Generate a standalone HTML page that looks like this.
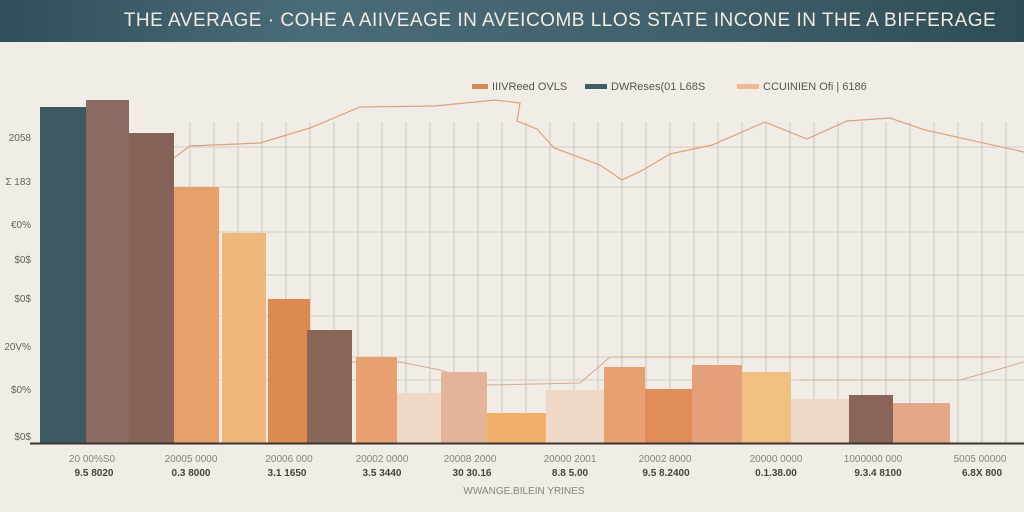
<!DOCTYPE html>
<html><head><meta charset="utf-8"><style>
html,body{margin:0;padding:0;width:1024px;height:512px;overflow:hidden;background:#f1ede6;}
svg{display:block}
text{font-family:"Liberation Sans",sans-serif;}
</style></head><body>
<svg width="1024" height="512" viewBox="0 0 1024 512" xmlns="http://www.w3.org/2000/svg">
<defs>
<linearGradient id="hd" x1="0" x2="1" y1="0" y2="0">
<stop offset="0" stop-color="#2f4f5a"/><stop offset="0.3" stop-color="#4a6c78"/><stop offset="0.7" stop-color="#3f5f6a"/><stop offset="1" stop-color="#2e4c56"/>
</linearGradient>
</defs>
<rect width="1024" height="512" fill="#f1ede6"/>
<rect width="1024" height="42" fill="url(#hd)"/>
<text x="560" y="26" font-size="19" fill="#f2ece4" text-anchor="middle" letter-spacing="0.5">THE AVERAGE · COHE A AIIVEAGE IN AVEICOMB LLOS STATE INCONE IN THE A BIFFERAGE</text>
<g stroke="#d2ccc4" stroke-width="1">
<line x1="174" y1="147" x2="1024" y2="147"/>
<line x1="174" y1="187" x2="1024" y2="187"/>
<line x1="174" y1="232" x2="1024" y2="232"/>
<line x1="174" y1="275" x2="1024" y2="275"/>
<line x1="174" y1="316" x2="1024" y2="316"/>
<line x1="174" y1="357" x2="1024" y2="357"/>
<line x1="174" y1="380" x2="1024" y2="380"/>
</g>
<g stroke="#ccc5bd" stroke-width="1">
<line x1="190" y1="122" x2="190" y2="443"/><line x1="214" y1="122" x2="214" y2="443"/><line x1="238" y1="122" x2="238" y2="443"/><line x1="262" y1="122" x2="262" y2="443"/><line x1="286" y1="122" x2="286" y2="443"/><line x1="310" y1="122" x2="310" y2="443"/><line x1="334" y1="122" x2="334" y2="443"/><line x1="358" y1="122" x2="358" y2="443"/><line x1="382" y1="122" x2="382" y2="443"/><line x1="406" y1="122" x2="406" y2="443"/><line x1="430" y1="122" x2="430" y2="443"/><line x1="454" y1="122" x2="454" y2="443"/><line x1="478" y1="122" x2="478" y2="443"/><line x1="502" y1="122" x2="502" y2="443"/><line x1="526" y1="122" x2="526" y2="443"/><line x1="550" y1="122" x2="550" y2="443"/><line x1="574" y1="122" x2="574" y2="443"/><line x1="598" y1="122" x2="598" y2="443"/><line x1="622" y1="122" x2="622" y2="443"/><line x1="646" y1="122" x2="646" y2="443"/><line x1="670" y1="122" x2="670" y2="443"/><line x1="694" y1="122" x2="694" y2="443"/><line x1="718" y1="122" x2="718" y2="443"/><line x1="742" y1="122" x2="742" y2="443"/><line x1="766" y1="122" x2="766" y2="443"/><line x1="790" y1="122" x2="790" y2="443"/><line x1="814" y1="122" x2="814" y2="443"/><line x1="838" y1="122" x2="838" y2="443"/><line x1="862" y1="122" x2="862" y2="443"/><line x1="886" y1="122" x2="886" y2="443"/><line x1="910" y1="122" x2="910" y2="443"/><line x1="934" y1="122" x2="934" y2="443"/><line x1="958" y1="122" x2="958" y2="443"/><line x1="982" y1="122" x2="982" y2="443"/><line x1="1006" y1="122" x2="1006" y2="443"/>
</g>
<polyline fill="none" stroke="#e0a07a" stroke-width="1.2" points="174,158 190,146 260,143 310,128 360,107 435,106 495,100 520,103 517,121 537,129 554,148 600,165 622,180 643,170 670,154 712,145 765,122 807,139 847,121 890,118 925,130 1024,152"/>
<polyline fill="none" stroke="#d8a890" stroke-width="1" points="350,362 400,362 440,370 490,385 580,383 610,357 1000,357"/>
<polyline fill="none" stroke="#d8a890" stroke-width="1" points="800,380 960,380 1024,362"/>
<rect x="40" y="107" width="46" height="336" fill="#3d5a62"/>
<rect x="86" y="100" width="43" height="343" fill="#8a6a60"/>
<rect x="129" y="133" width="45" height="310" fill="#866359"/>
<rect x="174" y="187" width="45" height="256" fill="#e8a06a"/>
<rect x="222" y="233" width="44" height="210" fill="#f0b878"/>
<rect x="268" y="299" width="42" height="144" fill="#dc8a52"/>
<rect x="307" y="330" width="45" height="113" fill="#8a6658"/>
<rect x="356" y="357" width="41" height="86" fill="#e8a070"/>
<rect x="397" y="393" width="44" height="50" fill="#f0d8c6"/>
<rect x="441" y="372" width="46" height="71" fill="#e4b49a"/>
<rect x="487" y="413" width="59" height="30" fill="#f0b06a"/>
<rect x="546" y="390" width="58" height="53" fill="#f0d8c6"/>
<rect x="604" y="367" width="41" height="76" fill="#e8a070"/>
<rect x="645" y="389" width="47" height="54" fill="#e08c58"/>
<rect x="692" y="365" width="50" height="78" fill="#e4a078"/>
<rect x="742" y="372" width="49" height="71" fill="#f0c080"/>
<rect x="791" y="399" width="58" height="44" fill="#f0d8c6"/>
<rect x="849" y="395" width="44" height="48" fill="#8a6458"/>
<rect x="893" y="403" width="57" height="40" fill="#e4a888"/>
<line x1="30" y1="443.5" x2="1024" y2="443.5" stroke="#3a3430" stroke-width="2"/>
<g font-size="10" fill="#6a625c" text-anchor="end">
<text x="31" y="141">2058</text><text x="31" y="185">Σ 183</text><text x="31" y="228">€0%</text><text x="31" y="263">$0$</text><text x="31" y="302">$0$</text><text x="31" y="350">20V%</text><text x="31" y="393">$0%</text><text x="31" y="440">$0$</text>
</g>
<rect x="472" y="84" width="16" height="5" fill="#d08a5c"/>
<text x="492" y="90" font-size="11" fill="#5a524c">IIIVReed OVLS</text>
<rect x="585" y="84" width="22" height="5" fill="#3e6068"/>
<text x="611" y="90" font-size="11" fill="#5a524c">DWReses(01 L68S</text>
<rect x="737" y="84" width="22" height="5" fill="#f0b890"/>
<text x="763" y="90" font-size="11" fill="#5a524c">CCUINIEN Ofi | 6186</text>
<g font-size="10" fill="#8a827c" text-anchor="middle">
<text x="92" y="462">20 00%S0</text><text x="191" y="462">20005 0000</text><text x="289" y="462">20006 000</text><text x="382" y="462">20002 0000</text><text x="470" y="462">20008 2000</text><text x="570" y="462">20000 2001</text><text x="665" y="462">20002 8000</text><text x="776" y="462">20000 0000</text><text x="873" y="462">1000000 000</text><text x="980" y="462">5005 00000</text>
</g>
<g font-size="10" fill="#4a423c" text-anchor="middle" font-weight="bold">
<text x="94" y="476">9.5 8020</text><text x="191" y="476">0.3 8000</text><text x="287" y="476">3.1 1650</text><text x="382" y="476">3.5 3440</text><text x="472" y="476">30 30.16</text><text x="570" y="476">8.8 5.00</text><text x="666" y="476">9.5 8.2400</text><text x="776" y="476">0.1.38.00</text><text x="878" y="476">9.3.4 8100</text><text x="982" y="476">6.8X 800</text>
</g>
<text x="524" y="494" font-size="10" fill="#8a827c" text-anchor="middle">WWANGE.BILEIN YRINES</text>
</svg>
</body></html>
